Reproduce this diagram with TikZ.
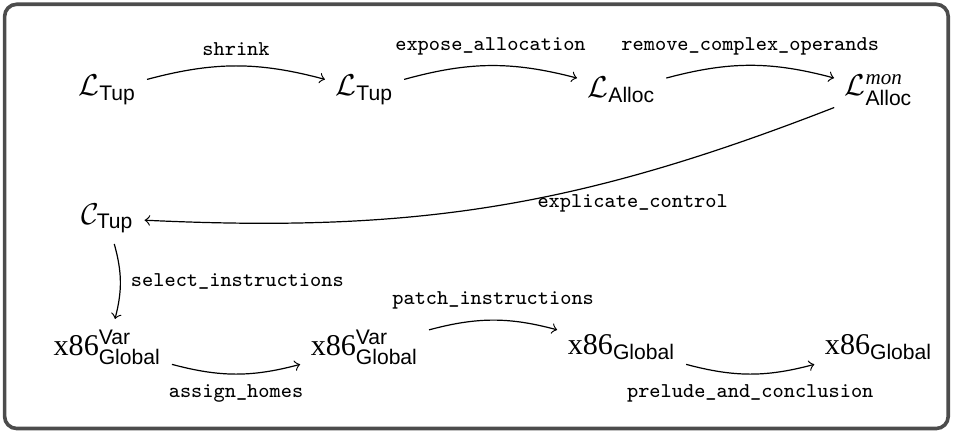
\documentclass[tikz,border=0pt]{standalone}
\usepackage{amsmath}
\usepackage{fontspec}
\setmainfont{Liberation Serif}
\setsansfont{Liberation Sans}

\begin{document}
\begin{tikzpicture}[lang/.style={font=\normalsize},pass/.style={font=\scriptsize\ttfamily}]
\useasboundingbox (-1.254,1.05) rectangle (9.866,-4.002);
\draw[line width=1.2pt, draw=black!70, rounded corners=4pt] (-1.2,1.0) rectangle (9.81,-3.95);
\node[lang] (Ltup)   at (0,0)    { $\mathcal{L}_{\textsf{Tup}}$ };
\node[lang] (Ltup2)  at (3,0)    { $\mathcal{L}_{\textsf{Tup}}$ };
\node[lang] (Lalloc) at (6,0)    { $\mathcal{L}_{\textsf{Alloc}}$ };
\node[lang] (Lmon)   at (9,0)    { $\mathcal{L}^{\textit{mon}}_{\textsf{Alloc}}$ };
\node[lang] (Ctup)   at (0,-1.5) { $\mathcal{C}_{\textsf{Tup}}$ };
\node[lang] (xvar)   at (0,-3)   { x86$^{\textsf{Var}}_{\textsf{Global}}$ };
\node[lang] (xvar2)  at (3,-3)   { x86$^{\textsf{Var}}_{\textsf{Global}}$ };
\node[lang] (xglob)  at (6,-3)   { x86$_{\textsf{Global}}$ };
\node[lang] (xglob2) at (9,-3)   { x86$_{\textsf{Global}}$ };
\draw[->, bend left=15]  (Ltup)   edge node[pass, above] {shrink} (Ltup2);
\draw[->, bend left=15]  (Ltup2)  edge node[pass, above] {expose\_allocation} (Lalloc);
\draw[->, bend left=15]  (Lalloc) edge node[pass, above] {remove\_complex\_operands} (Lmon);
\draw[->, bend left=12]  (Lmon)   edge node[pass, anchor=west, pos=0.452, yshift=-1pt] {explicate\_control} (Ctup);
\draw[->, bend left=15]  (Ctup)   edge node[pass, right] {select\_instructions} (xvar);
\draw[->, bend right=15] (xvar)   edge node[pass, below] {assign\_homes} (xvar2);
\draw[->, bend left=15]  (xvar2)  edge node[pass, above] {patch\_instructions} (xglob);
\draw[->, bend right=15] (xglob)  edge node[pass, below] {prelude\_and\_conclusion} (xglob2);
\end{tikzpicture}
\end{document}
